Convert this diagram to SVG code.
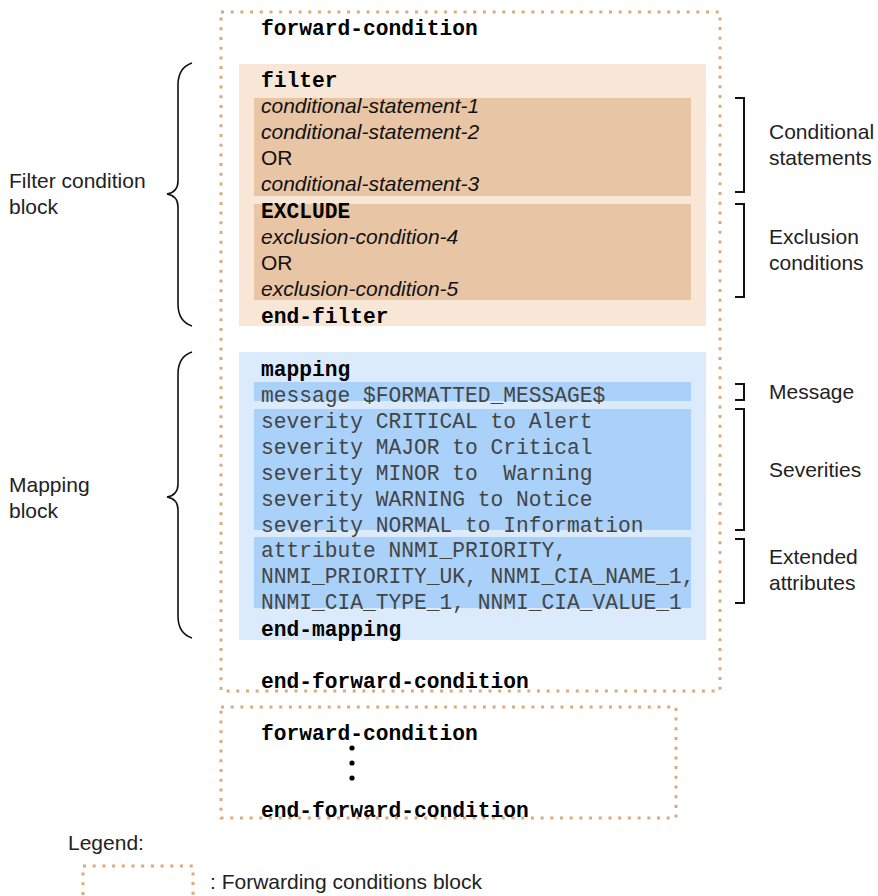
<svg xmlns="http://www.w3.org/2000/svg" width="878" height="896" viewBox="0 0 878 896">
<style>
.dot{fill:none;stroke:#e0a978;stroke-width:3;stroke-dasharray:3 6.7}
.mb{font-family:"Liberation Mono","Courier New",monospace;font-weight:bold;font-size:21.25px;fill:#000}
.mr{font-family:"Liberation Mono","Courier New",monospace;font-size:21.25px;fill:#444}
.si{font-family:"Liberation Sans",Arial,sans-serif;font-style:italic;font-size:21px;fill:#111}
.sr{font-family:"Liberation Sans",Arial,sans-serif;font-size:21px;fill:#111}
.lbl{font-family:"Liberation Sans",Arial,sans-serif;font-size:21px;fill:#222}
.br{fill:none;stroke:#111;stroke-width:1.6}
.bk{fill:none;stroke:#111;stroke-width:2}
</style>
<rect width="878" height="896" fill="#fff"/>

<g id="forwarding-block-1">
<rect class="dot" x="221" y="12" width="499" height="679"/>
<text class="mb" x="261" y="35">forward-condition</text>
<text class="mb" x="261" y="688">end-forward-condition</text>
</g>

<g id="filter-block">
<rect x="239" y="64" width="467" height="262" fill="#f8e6d6"/>
<rect x="254" y="98" width="437" height="98" fill="#e8c5a5"/>
<rect x="254" y="204" width="437" height="96" fill="#e8c5a5"/>
<text class="mb" x="261" y="87">filter</text>
<text class="si" x="261" y="113">conditional-statement-1</text>
<text class="si" x="261" y="139">conditional-statement-2</text>
<text class="sr" x="261" y="165">OR</text>
<text class="si" x="261" y="191">conditional-statement-3</text>
<text class="mb" x="261" y="218">EXCLUDE</text>
<text class="si" x="261" y="244">exclusion-condition-4</text>
<text class="sr" x="261" y="270">OR</text>
<text class="si" x="261" y="296">exclusion-condition-5</text>
<text class="mb" x="261" y="323">end-filter</text>
</g>

<g id="mapping-block">
<rect x="239" y="352" width="467" height="288" fill="#dcebfc"/>
<rect x="254" y="382" width="437" height="19" fill="#a9d1f9"/>
<rect x="254" y="409" width="437" height="121" fill="#a9d1f9"/>
<rect x="254" y="537" width="437" height="71" fill="#a9d1f9"/>
<text class="mb" x="261" y="376">mapping</text>
<text class="mr" x="261" y="402">message $FORMATTED_MESSAGE$</text>
<text class="mr" x="261" y="428">severity CRITICAL to Alert</text>
<text class="mr" x="261" y="454">severity MAJOR to Critical</text>
<text class="mr" x="261" y="480" xml:space="preserve">severity MINOR to  Warning</text>
<text class="mr" x="261" y="506">severity WARNING to Notice</text>
<text class="mr" x="261" y="532">severity NORMAL to Information</text>
<text class="mr" x="261" y="557">attribute NNMI_PRIORITY,</text>
<text class="mr" x="261" y="583">NNMI_PRIORITY_UK, NNMI_CIA_NAME_1,</text>
<text class="mr" x="261" y="609">NNMI_CIA_TYPE_1, NNMI_CIA_VALUE_1</text>
<text class="mb" x="261" y="636">end-mapping</text>
</g>

<g id="forwarding-block-2">
<rect class="dot" x="221" y="707" width="455" height="111"/>
<text class="mb" x="261" y="740">forward-condition</text>
<circle cx="352" cy="748" r="2.6" fill="#000"/>
<circle cx="352" cy="763" r="2.6" fill="#000"/>
<circle cx="352" cy="778" r="2.6" fill="#000"/>
<text class="mb" x="261" y="817">end-forward-condition</text>
</g>

<g id="connectors">
<path class="br" d="M192,63 C183,66 178,72 178,85 L178,181 C178,189 173,193 167,194 C173,195 178,199 178,207 L178,304 C178,317 183,323 192,326"/>
<path class="br" d="M192,352 C183,355 178,361 178,374 L178,484 C178,492 173,496 167,497 C173,498 178,502 178,510 L178,616 C178,629 183,635 192,638"/>
<path class="bk" d="M735,98 H744 V192 H735"/>
<path class="bk" d="M735,204 H744 V297 H735"/>
<path class="bk" d="M735,384 H744 V400 H735"/>
<path class="bk" d="M735,409 H744 V530 H735"/>
<path class="bk" d="M735,539 H744 V603 H735"/>
</g>

<g id="labels">
<text class="lbl" x="9" y="188">Filter condition</text>
<text class="lbl" x="9" y="214">block</text>
<text class="lbl" x="9" y="492">Mapping</text>
<text class="lbl" x="9" y="518">block</text>
<text class="lbl" x="769" y="139">Conditional</text>
<text class="lbl" x="769" y="165">statements</text>
<text class="lbl" x="769" y="244">Exclusion</text>
<text class="lbl" x="769" y="270">conditions</text>
<text class="lbl" x="769" y="399">Message</text>
<text class="lbl" x="769" y="477">Severities</text>
<text class="lbl" x="769" y="564">Extended</text>
<text class="lbl" x="769" y="590">attributes</text>
</g>

<g id="legend">
<text class="lbl" x="68" y="850">Legend:</text>
<rect class="dot" x="83" y="866" width="110" height="50"/>
<text class="lbl" x="210" y="889">: Forwarding conditions block</text>
</g>
</svg>
